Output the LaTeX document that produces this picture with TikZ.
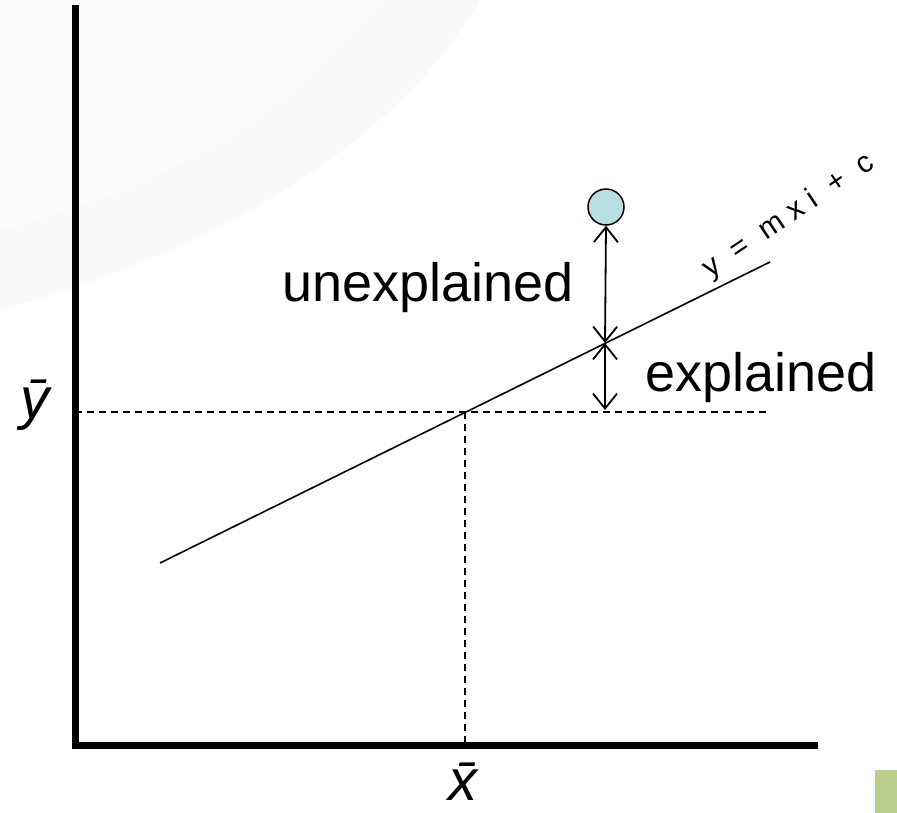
\documentclass[tikz,border=0pt]{standalone}
\usepackage{fontspec}
\setmainfont{Liberation Sans}
\usetikzlibrary{arrows.meta,positioning}
\definecolor{dotfill}{HTML}{B8DFE1}
\definecolor{cornergreen}{HTML}{BACE8E}
\tikzset{
  axis/.style={line width=7pt},
  guide/.style={dashed, line width=1.2pt, dash pattern=on 7pt off 5pt},
  gap/.style={line width=1.8pt, {Straight Barb[length=15pt,width=24pt]}-{Straight Barb[length=15pt,width=24pt]}},
  lbl/.style={font=\fontsize{54}{60}\selectfont, inner sep=0pt}
}
\begin{document}
\begin{tikzpicture}[x=1pt, y=-1pt]
    \useasboundingbox (0,0) rectangle (897,813);
    % faint swoosh in the background
    \fill[gray!4] (0,310) .. controls (220,250) and (400,140) .. (480,0)
        -- (380,0) .. controls (300,110) and (160,190) .. (0,230) -- cycle;
    \fill[gray!2] (0,230) .. controls (160,190) and (300,110) .. (380,0)
        -- (0,0) -- cycle;
    \fill[cornergreen] (875,770) rectangle (897,813);

    \coordinate (O) at (75,745);
    \coordinate (T) at (75,5);
    \coordinate (R) at (818,745);
    \coordinate (L1) at (160,563);
    \coordinate (L2) at (770,262);
    \coordinate (M) at (465,412);
    \coordinate (Ym) at (75,412);
    \coordinate (Ye) at (770,412);
    \coordinate (Xm) at (465,745);
    \coordinate (F) at (605,343);
    \coordinate (B) at (605,410);

    \draw[axis] (T) -- (O) -- (R);
    \draw[guide] (Ym) -- (Ye);
    \draw[guide] (M) -- (Xm);
    \draw[line width=1.6pt] (L1) -- (L2);

    \node[circle, draw, line width=1.5pt, fill=dotfill, minimum size=36pt, inner sep=0pt] (pt) at (606,207) {};
    \draw[gap] (pt.south) -- (F);
    \draw[gap] (F) -- (B);

    \node[lbl, anchor=base east] (unexp) at (574,301) {unexplained};
    \node[lbl, anchor=base west] (exp) at (645,391) {explained};
    \node[lbl, font=\fontsize{58}{60}\selectfont\itshape] (ybar) at (35,405) {\=y};
    \node[lbl, font=\fontsize{58}{60}\selectfont\itshape] (xbar) at (463,782) {\=x};
    \node[rotate=34, inner sep=0pt, font=\fontsize{30}{32}\selectfont\addfontfeatures{LetterSpace=30}] (eqn) at (789,216) {y = mxi + c};
\end{tikzpicture}
\end{document}
